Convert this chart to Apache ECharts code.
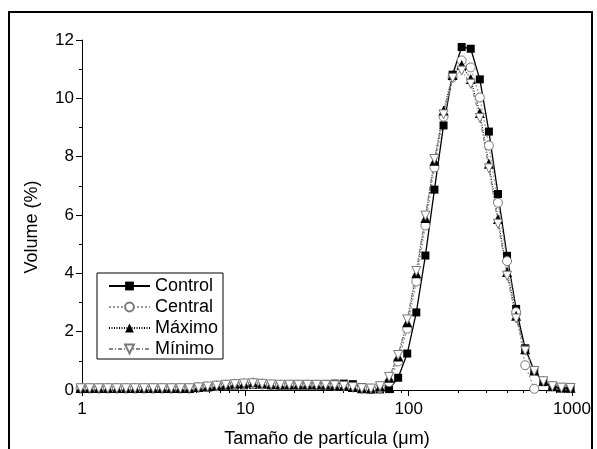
<!DOCTYPE html>
<html><head><meta charset="utf-8">
<script src="https://cdn.jsdelivr.net/npm/echarts@6/dist/echarts.min.js"></script>
<style>html,body{margin:0;padding:0;background:#fff}#c{width:597px;height:449px}</style>
</head><body><div id="c"></div>
<script>
// Particle size classes (µm)
const sizes = [0.98,1.114,1.266,1.438,1.635,1.858,2.111,2.399,2.727,3.099,3.522,4.003,4.549,5.169,5.875,6.677,7.588,8.623,
  9.8,11.14,12.66,14.38,16.35,18.58,21.11,23.99,27.27,30.99,35.22,40.03,45.49,51.69,58.75,66.77,75.88,86.23,
  98,111.4,126.6,143.8,163.5,185.8,211.1,239.9,272.7,309.9,352.2,400.3,454.9,516.9,587.5,667.7,758.8,862.3,980];
const control = [0.05,0.05,0.05,0.05,0.05,0.05,0.05,0.05,0.05,0.05,0.05,0.05,0.05,0.07,0.09,0.11,0.13,0.15,
  0.16,0.17,0.18,0.18,0.18,0.19,0.19,0.2,0.2,0.21,0.22,0.22,0.2,0.1,0.04,0.02,0.03,0.42,
  1.25,2.66,4.61,6.87,9.07,10.81,11.76,11.7,10.65,8.86,6.72,4.6,2.78,1.43,0.65,0.27,0.11,0.06,0.05];
const central = [0.05,0.05,0.05,0.05,0.05,0.05,0.05,0.05,0.05,0.05,0.05,0.05,0.05,0.08,0.1,0.13,0.16,0.18,
  0.2,0.2,0.19,0.17,0.16,0.16,0.16,0.16,0.16,0.16,0.15,0.13,0.09,0.05,0.03,0.06,0.27,0.98,
  2.1,3.72,5.64,7.63,9.37,10.72,11.3,11.06,10.03,8.38,6.42,4.42,2.67,0.85,0.04,null,null,null,null];
const maximo = [0.07,0.07,0.07,0.07,0.07,0.07,0.07,0.07,0.07,0.07,0.07,0.07,0.07,0.1,0.13,0.16,0.19,0.22,
  0.24,0.27,0.23,0.2,0.19,0.19,0.19,0.19,0.19,0.18,0.17,0.15,0.1,0.06,0.05,0.12,0.42,1.15,
  2.32,4.0,5.9,7.86,9.58,10.8,11.14,10.66,9.5,7.76,5.86,4.05,2.55,1.4,0.67,0.32,0.13,0.09,0.08];
const minimo = [0.06,0.06,0.06,0.06,0.06,0.06,0.06,0.06,0.06,0.06,0.06,0.06,0.06,0.09,0.12,0.15,0.18,0.2,
  0.22,0.23,0.21,0.19,0.18,0.18,0.18,0.18,0.18,0.17,0.16,0.14,0.1,0.06,0.05,0.13,0.45,1.2,
  2.42,4.08,5.98,7.92,9.45,10.7,10.95,10.5,9.33,7.6,5.7,3.92,2.45,1.35,0.65,0.3,0.13,0.08,0.07];
const seriesNames = ['Control','Central','Máximo','Mínimo'];
const xMinorTicks = [2,3,4,5,6,7,8,9,20,30,40,50,60,70,80,90,200,300,400,500,600,700,800,900];

function pairs(vals){const out=[];vals.forEach((v,i)=>{if(v!==null)out.push([sizes[i],v]);});return out;}

const FONT = 'Liberation Sans, Arial, sans-serif';
const FS = 18;
const chart = echarts.init(document.getElementById('c'), null, {renderer:'canvas'});
const txt = {color:'#000', fontFamily:FONT, fontSize:FS};
const tickTxt = {color:'#000', fontFamily:FONT, fontSize:17};
chart.setOption({
  animation:false,
  backgroundColor:'#fff',
  textStyle:{fontFamily:FONT},
  grid:{left:82,right:25,top:40,bottom:59,containLabel:false,outerBoundsMode:'none'},
  legend:{
    orient:'vertical', left:97, top:273,
    data:seriesNames,
    itemWidth:41, itemHeight:11, itemGap:3,
    padding:[4,5,1,11],
    borderColor:'#000', borderWidth:1, backgroundColor:'#fff',
    textStyle:txt
  },
  xAxis:[{
    type:'log', logBase:10, min:1, max:1000,
    name:'Tamaño de partícula (μm)', nameLocation:'middle', nameGap:40,
    nameTextStyle:txt,
    axisLine:{show:true,lineStyle:{color:'#000',width:1}},
    axisTick:{show:true,inside:false,length:6,lineStyle:{color:'#000'}},
    axisLabel:Object.assign({}, tickTxt, {margin:11, formatter:function(v){return String(v);}}),
    splitLine:{show:false}, minorTick:{show:false}
  },{
    // helper axis carrying the minor log ticks (2..9 per decade)
    type:'value', min:0, max:3, position:'bottom',
    axisLine:{show:false},
    axisTick:{show:true,inside:false,length:3,lineStyle:{color:'#000'},
      customValues:xMinorTicks.map(function(v){return Math.log10(v);})},
    axisLabel:{show:false}, splitLine:{show:false}
  }],
  yAxis:{
    type:'value', min:0, max:12, interval:2,
    name:'Volume (%)', nameLocation:'middle', nameGap:41,
    nameTextStyle:Object.assign({}, txt, {padding:[0,24,0,0]}),
    axisLine:{show:true,lineStyle:{color:'#000',width:1}},
    axisTick:{show:true,inside:false,length:6,lineStyle:{color:'#000'}},
    minorTick:{show:true,splitNumber:2,length:3,lineStyle:{color:'#000'}},
    axisLabel:Object.assign({}, tickTxt, {margin:8}),
    splitLine:{show:false}
  },
  series:[
    {name:'Control',type:'line',data:pairs(control),clip:false,
     symbol:'rect',symbolSize:8,
     lineStyle:{color:'#000',width:1.3,type:'solid'},
     itemStyle:{color:'#000',borderColor:'#000',borderWidth:0}},
    {name:'Central',type:'line',data:pairs(central),clip:false,
     symbol:'circle',symbolSize:9,
     lineStyle:{color:'#999',width:1.2,type:[2,2]},
     itemStyle:{color:'#fff',borderColor:'#777',borderWidth:1}},
    {name:'Máximo',type:'line',data:pairs(maximo),clip:false,
     symbol:'triangle',symbolSize:10,
     lineStyle:{color:'#000',width:1.1,type:[1,1.5]},
     itemStyle:{color:'#000',borderColor:'#000',borderWidth:0}},
    {name:'Mínimo',type:'line',data:pairs(minimo),clip:false,
     symbol:'triangle',symbolRotate:180,symbolSize:9,
     lineStyle:{color:'#888',width:1.2,type:[4,2,1,2]},
     itemStyle:{color:'#fff',borderColor:'#777',borderWidth:1}}
  ],
  graphic:[{
    type:'polyline', silent:true,
    shape:{points:[[9,449],[9,12],[592,12],[592,449]]},
    style:{stroke:'#000',lineWidth:2,fill:null}
  }]
});
</script>
</body></html>
